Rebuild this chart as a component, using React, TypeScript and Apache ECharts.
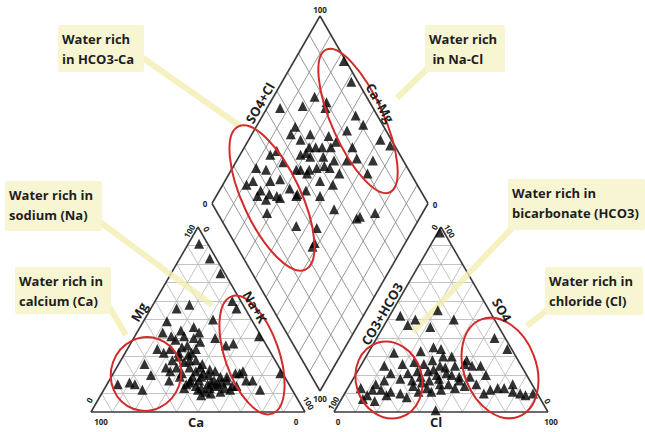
import React, { useEffect, useRef } from "react";
import * as echarts from "echarts";

// ---- data (percentages) ----
const gridSteps = [10, 20, 30, 40, 50, 60, 70, 80, 90];

// Cation triangle: Ca %, Mg % (Na+K = 100 - Ca - Mg)
const cationCa = [4, 3, 2, 32, 25, 4, 4, 40, 18, 1, 1, 52, 62, 72, 74, 80, 70, 62, 52, 55, 22, 19, 15, 18, 16, 15, 22, 19, 45, 42, 36, 29, 28, 41, 37, 46, 50, 43, 37, 37, 35, 42, 47, 43, 41, 38, 34, 30, 28, 27, 35, 38, 48, 49, 44, 37, 33, 40, 48, 32, 36, 45, 33, 37, 44, 41, 31, 20, 48, 53, 39, 36, 42, 46, 40, 35, 31, 29, 25, 50, 34, 39, 44, 31, 27, 43, 39, 34, 30, 40, 44];
const cationMg = [91, 83, 75, 56, 58, 60, 56, 49, 50, 41, 21, 34, 26, 15, 16, 15, 12, 20, 22, 17, 40, 36, 37, 22, 17, 12, 21, 17, 43, 41, 44, 46, 43, 39, 36, 34, 32, 32, 32, 28, 26, 24, 21, 19, 17, 15, 17, 19, 17, 14, 14, 13, 15, 19, 14, 21, 23, 28, 28, 40, 41, 17, 15, 24, 12, 11, 13, 21, 24, 24, 19, 16, 13, 16, 22, 20, 16, 12, 14, 13, 11, 10, 9, 22, 19, 27, 31, 34, 38, 35, 30];

// Anion triangle: SO4 %, Cl % (CO3+HCO3 = 100 - SO4 - Cl)
const anionSO4 = [97, 55, 50, 52, 50, 47, 46, 40, 34, 32, 33, 35, 34, 30, 26, 25, 20, 10, 13, 13, 15, 10, 9, 10, 28, 25, 13, 9, 6, 12, 17, 21, 25, 26, 21, 17, 11, 10, 11, 15, 12, 26, 22, 28, 25, 21, 25, 17, 15, 15, 19, 14, 13, 19, 20, 30, 13, 19, 15, 1, 18, 23, 16, 20, 24, 12, 17, 11, 14, 22, 8, 9, 7, 18, 27, 12, 11];
const anionCl = [1, 21, 31, 5, 13, 11, 22, 55, 64, 12, 24, 29, 33, 40, 48, 56, 61, 65, 70, 73, 76, 82, 85, 88, 48, 52, 6, 11, 16, 16, 15, 16, 11, 19, 24, 28, 34, 26, 21, 12, 12, 29, 33, 32, 37, 42, 44, 36, 42, 46, 49, 54, 37, 31, 38, 36, 50, 54, 59, 47, 40, 35, 33, 45, 40, 44, 50, 40, 30, 28, 30, 20, 10, 22, 24, 67, 78];

// Diamond: SO4+Cl %, Ca+Mg %
const diamondSO4Cl = [99, 97, 76, 80, 78, 68, 57, 90, 91, 82, 95, 98, 86, 79, 74, 59, 55, 58, 64, 63, 58, 54, 64, 64, 58, 52, 56, 61, 48, 44, 40, 34, 30, 25, 21, 26, 33, 38, 40, 26, 41, 33, 44, 74, 67, 80, 80, 23, 29, 32, 23, 42, 52, 55, 33, 42, 37, 35, 63, 65, 73, 60, 66, 70, 62, 50, 47, 68, 72, 54, 57];
const diamondCaMg = [77, 68, 81, 74, 73, 84, 94, 57, 51, 57, 39, 33, 37, 45, 59, 82, 82, 76, 73, 67, 67, 72, 61, 55, 61, 64, 56, 49, 70, 78, 86, 84, 89, 87, 89, 81, 79, 75, 68, 76, 63, 70, 84, 49, 49, 36, 50, 81, 76, 72, 72, 63, 52, 42, 55, 45, 42, 42, 29, 28, 22, 70, 64, 60, 58, 68, 60, 55, 64, 64, 70];

// ---- layout (pixels) ----
const SIDE = 214;
const HT = 185;
const CAT0 = [91, 412];
const AN0 = [334, 412];
const DB = [320, 391];
const DHW = 108;
const DHH = 187.5;

const cationXY = (ca: number, mg: number) => {
  const na = 100 - ca - mg;
  return [CAT0[0] + (SIDE * (na + mg / 2)) / 100, CAT0[1] - (HT * mg) / 100];
};
const anionXY = (so4: number, cl: number) => [
  AN0[0] + (SIDE * (cl + so4 / 2)) / 100,
  AN0[1] - (HT * so4) / 100,
];
const diamondXY = (a: number, b: number) => [
  DB[0] + (DHW * (a - b)) / 100,
  DB[1] - (DHH * (a + b)) / 100,
];

const seg = (p: number[], q: number[]) => ({ coords: [p, q] });

function buildGrid() {
  const tri: any[] = [];
  const dia: any[] = [];
  gridSteps.forEach((k) => {
    tri.push(seg(cationXY(100 - k, k), cationXY(0, k)));
    tri.push(seg(cationXY(k, 0), cationXY(k, 100 - k)));
    tri.push(seg(cationXY(100 - k, 0), cationXY(0, 100 - k)));
    tri.push(seg(anionXY(k, 0), anionXY(k, 100 - k)));
    tri.push(seg(anionXY(0, k), anionXY(100 - k, k)));
    tri.push(seg(anionXY(0, 100 - k), anionXY(100 - k, 0)));
    dia.push(seg(diamondXY(k, 0), diamondXY(k, 100)));
    dia.push(seg(diamondXY(0, k), diamondXY(100, k)));
  });
  const outline = [
    seg(cationXY(100, 0), cationXY(0, 0)),
    seg(cationXY(0, 0), cationXY(0, 100)),
    seg(cationXY(0, 100), cationXY(100, 0)),
    seg(anionXY(0, 0), anionXY(0, 100)),
    seg(anionXY(0, 100), anionXY(100, 0)),
    seg(anionXY(100, 0), anionXY(0, 0)),
    seg(diamondXY(0, 0), diamondXY(100, 0)),
    seg(diamondXY(100, 0), diamondXY(100, 100)),
    seg(diamondXY(100, 100), diamondXY(0, 100)),
    seg(diamondXY(0, 100), diamondXY(0, 0)),
  ];
  return { tri, dia, outline };
}

const F = '"Open Sans", "Liberation Sans", sans-serif';
const DEG = Math.PI / 180;

function txt(text: string, x: number, y: number, size: number, rot = 0, align = "center", z = 20) {
  return {
    type: "text",
    x,
    y,
    rotation: rot * DEG,
    z,
    silent: true,
    style: {
      text,
      font: `bold ${size}px ${F}`,
      fill: "#1e1e1e",
      align,
      verticalAlign: "middle",
      textAlign: align,
      textVerticalAlign: "middle",
    },
  };
}

// angDeg: angle of the major axis below the horizontal, going down-right
function ellipse(cx: number, cy: number, rx: number, ry: number, angDeg: number) {
  return {
    type: "ellipse",
    x: cx,
    y: cy,
    rotation: -angDeg * DEG,
    z: 12,
    silent: true,
    shape: { cx: 0, cy: 0, rx, ry },
    style: { fill: "none", stroke: "#d42a2a", lineWidth: 2 },
  };
}

function callout(x: number, y: number, w: number, h: number, l1: string, l2: string, lx1: number, ly1: number, lx2: number, ly2: number) {
  return [
    {
      type: "line",
      z: 5,
      silent: true,
      shape: { x1: lx1, y1: ly1, x2: lx2, y2: ly2 },
      style: { stroke: "#f3eeb2", lineWidth: 6, opacity: 0.8 },
    },
    {
      type: "rect",
      z: 14,
      silent: true,
      shape: { x, y, width: w, height: h, r: 2 },
      style: { fill: "#f8f5d3" },
    },
    txt(l1, x + 4, y + 14, 13, 0, "left", 15),
    txt(l2, x + 4, y + 34, 13, 0, "left", 15),
  ];
}

export default function App() {
  const ref = useRef<HTMLDivElement>(null);
  useEffect(() => {
    if (!ref.current) return;
    const chart = echarts.init(ref.current, undefined, { renderer: "svg" });
    const { tri, dia, outline } = buildGrid();
    const catPts = cationCa.map((c, i) => cationXY(c, cationMg[i]));
    const anPts = anionSO4.map((s, i) => anionXY(s, anionCl[i]));
    const diaPts = diamondSO4Cl.map((a, i) => diamondXY(a, diamondCaMg[i]));
    const scatter = (data: number[][]) => ({
      type: "scatter",
      data,
      symbol: "triangle",
      symbolSize: 10,
      itemStyle: { color: "#000" },
      z: 8,
      silent: true,
    });
    const graphics: any[] = [
      ellipse(272, 198, 79, 29, 65),
      ellipse(358, 121, 78, 26, 66),
      ellipse(146, 374, 35, 37, 20),
      ellipse(252, 355, 62, 27, 71),
      ellipse(389, 380, 39, 33, 73),
      ellipse(500, 368, 52, 36, 69),
      ...callout(58, 25, 86, 47, "Water rich", "in HCO3-Ca", 143, 58, 240, 126),
      ...callout(425, 25, 80, 47, "Water rich", " in Na-Cl", 428, 68, 397, 98),
      ...callout(5, 181, 97, 50, "Water rich in", "sodium (Na)", 100, 222, 212, 305),
      ...callout(15, 267, 96, 47, "Water rich in", "calcium (Ca)", 108, 305, 126, 335),
      ...callout(508, 179, 137, 51, "Water rich in", "bicarbonate (HCO3)", 512, 228, 413, 332),
      ...callout(545, 267, 98, 48, "Water rich in", "chloride (Cl)", 547, 310, 527, 326),
      // axis names
      txt("Ca", 196, 422, 13),
      txt("Mg", 139, 312, 13, 60),
      txt("Na+K", 255, 307, 13, -60),
      txt("Cl", 436, 422, 13),
      txt("CO3+HCO3", 382, 314, 13, 60),
      txt("SO4", 502, 310, 13, -60),
      txt("SO4+Cl", 260, 103, 13, 60),
      txt("Ca+Mg", 380, 103, 13, -60),
      // tick labels
      txt("100", 101, 421, 8),
      txt("0", 296, 421, 8),
      txt("0", 89, 400, 8, 60),
      txt("100", 189, 231, 8, 60),
      txt("0", 207, 229, 8, -60),
      txt("100", 309, 403, 8, -60),
      txt("0", 338, 421, 8),
      txt("100", 333, 403, 8, 60),
      txt("100", 551, 421, 8),
      txt("0", 548, 401, 8, -60),
      txt("0", 434, 227, 8, 60),
      txt("100", 450, 231, 8, -60),
      txt("100", 320, 9, 8),
      txt("0", 205, 203, 8),
      txt("0", 435, 204, 8),
      txt("100", 320, 398, 8),
    ];
    chart.setOption({
      animation: false,
      backgroundColor: "#ffffff",
      grid: { left: 0, right: 0, top: 0, bottom: 0 },
      xAxis: { type: "value", min: 0, max: 645, show: false },
      yAxis: { type: "value", min: 0, max: 432, inverse: true, show: false },
      series: [
        { type: "lines", coordinateSystem: "cartesian2d", data: tri, silent: true, z: 1, lineStyle: { color: "#b4b4b4", width: 0.8, opacity: 1 } },
        { type: "lines", coordinateSystem: "cartesian2d", data: dia, silent: true, z: 1, lineStyle: { color: "#8c8c8c", width: 0.9, opacity: 1 } },
        { type: "lines", coordinateSystem: "cartesian2d", data: outline, silent: true, z: 3, lineStyle: { color: "#3a3a3a", width: 1.6, opacity: 1 } },
        scatter(catPts),
        scatter(anPts),
        scatter(diaPts),
      ],
      graphic: graphics,
    });
    return () => chart.dispose();
  }, []);
  return (
    <div
      ref={ref}
      style={{ position: "absolute", left: 0, top: 0, width: 645, height: 432, background: "#fff" }}
    />
  );
}
